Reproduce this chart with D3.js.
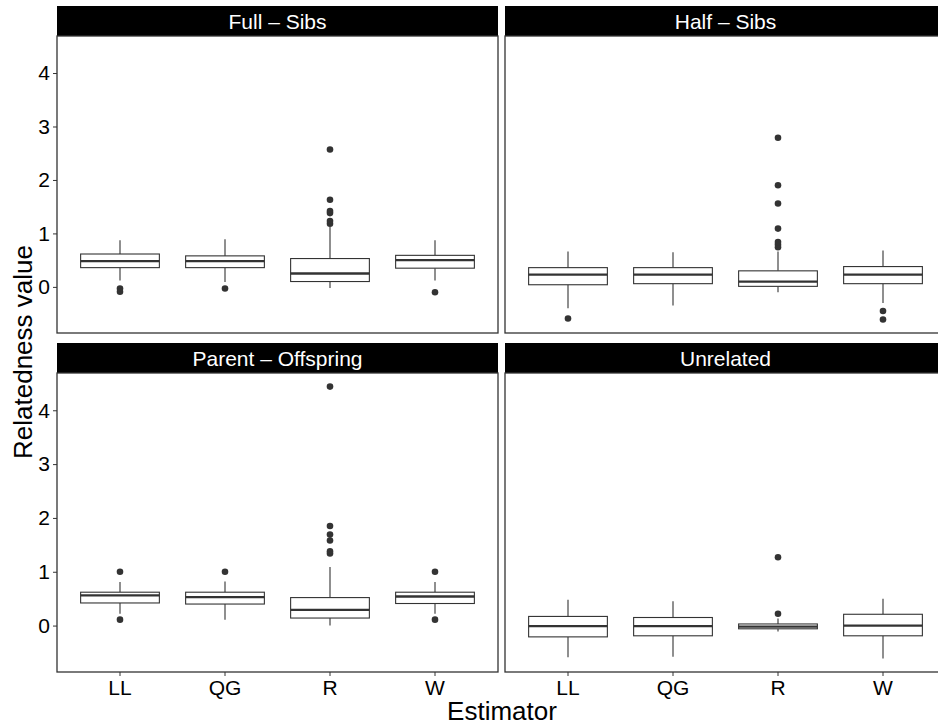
<!DOCTYPE html>
<html>
<head>
<meta charset="utf-8">
<script src="https://cdn.jsdelivr.net/npm/d3@7"></script>
<style>
  body { margin: 0; background: #fff; }
  text { font-family: "Liberation Sans", Arial, Helvetica, sans-serif; }
</style>
</head>
<body>
<div id="chart"></div>
<script>
// estimators on the x axis, one facet per relationship
const estimators = ["LL", "QG", "R", "W"];
const panels = ["Full \u2013 Sibs", "Half \u2013 Sibs", "Parent \u2013 Offspring", "Unrelated"];
const yTicks = [0, 1, 2, 3, 4];

// [lower whisker, q1, median, q3, upper whisker] for LL, QG, R, W
const fullSibs = [[0.12, 0.36, 0.48, 0.615, 0.87], [0.09, 0.36, 0.48, 0.58, 0.89], [-0.02, 0.10, 0.25, 0.53, 1.12], [0.12, 0.35, 0.50, 0.59, 0.87]];
const halfSibs = [[-0.40, 0.04, 0.23, 0.36, 0.66], [-0.35, 0.06, 0.23, 0.36, 0.65], [-0.10, 0.01, 0.10, 0.30, 0.66], [-0.30, 0.06, 0.23, 0.38, 0.68]];
const parentOffspring = [[0.22, 0.42, 0.56, 0.62, 0.81], [0.11, 0.40, 0.53, 0.62, 0.82], [0.0, 0.14, 0.29, 0.52, 1.09], [0.22, 0.41, 0.54, 0.62, 0.81]];
const unrelated = [[-0.59, -0.21, -0.01, 0.17, 0.48], [-0.58, -0.19, -0.01, 0.15, 0.45], [-0.11, -0.06, -0.02, 0.03, 0.13], [-0.61, -0.19, 0.0, 0.21, 0.50]];

// outliers for LL, QG, R, W
const fullSibsOut = [[-0.03, -0.09], [-0.03], [1.18, 1.23, 1.38, 1.42, 1.63, 2.57], [-0.10]];
const halfSibsOut = [[-0.59], [], [0.74, 0.79, 0.84, 1.09, 1.56, 1.90, 2.79], [-0.45, -0.61]];
const parentOffspringOut = [[0.11, 1.0], [1.0], [1.34, 1.38, 1.58, 1.69, 1.85, 4.44], [0.11, 1.0]];
const unrelatedOut = [[], [], [0.22, 1.27], []];

const stats = [fullSibs, halfSibs, parentOffspring, unrelated];
const outliers = [fullSibsOut, halfSibsOut, parentOffspringOut, unrelatedOut];

const width = 938, height = 727;
const colX = [[57, 498], [505, 946]];
const rowY = [[6, 36, 333], [343, 373, 672]]; // strip top, panel top, panel bottom

const svg = d3.select("#chart").append("svg")
    .attr("width", width)
    .attr("height", height);

// shared y domain, ggplot style 5% expansion
const allVals = stats.flat(2).concat(outliers.flat(2));
const lo = d3.min(allVals), hi = d3.max(allVals);
const pad = (hi - lo) * 0.05;

panels.forEach((name, i) => {
    const col = i % 2, row = Math.floor(i / 2);
    const [x0, x1] = colX[col];
    const [sTop, pTop, pBot] = rowY[row];

    const x = d3.scaleBand().domain(estimators).range([x0, x1])
        .paddingInner(0).paddingOuter(0.1);
    const y = d3.scaleLinear().domain([lo - pad, hi + pad]).range([pBot, pTop]);

    const g = svg.append("g");

    // strip
    g.append("rect")
        .attr("x", x0).attr("y", sTop)
        .attr("width", x1 - x0).attr("height", pTop - sTop)
        .attr("fill", "#000");
    g.append("text")
        .attr("x", (x0 + x1) / 2).attr("y", (sTop + pTop) / 2 + 8)
        .attr("text-anchor", "middle")
        .attr("fill", "#fff")
        .style("font-size", "21px")
        .text(name);

    const bw = x.bandwidth() * 0.75;

    const box = g.selectAll(".box")
        .data(estimators)
        .enter().append("g")
        .attr("class", "box")
        .attr("transform", d => `translate(${x(d) + x.bandwidth() / 2},0)`);

    box.append("line")
        .attr("y1", (d, j) => y(stats[i][j][3])).attr("y2", (d, j) => y(stats[i][j][4]))
        .attr("stroke", "#333").attr("stroke-width", 1.1);
    box.append("line")
        .attr("y1", (d, j) => y(stats[i][j][1])).attr("y2", (d, j) => y(stats[i][j][0]))
        .attr("stroke", "#333").attr("stroke-width", 1.1);
    box.append("rect")
        .attr("x", -bw / 2).attr("width", bw)
        .attr("y", (d, j) => y(stats[i][j][3]))
        .attr("height", (d, j) => y(stats[i][j][1]) - y(stats[i][j][3]))
        .attr("fill", "#fff").attr("stroke", "#333").attr("stroke-width", 1.1);
    box.append("line")
        .attr("x1", -bw / 2).attr("x2", bw / 2)
        .attr("y1", (d, j) => y(stats[i][j][2])).attr("y2", (d, j) => y(stats[i][j][2]))
        .attr("stroke", "#333").attr("stroke-width", 2.3);

    box.selectAll("circle")
        .data((d, j) => outliers[i][j])
        .enter().append("circle")
        .attr("cy", v => y(v))
        .attr("r", 3.3)
        .attr("fill", "#333");

    // panel border
    g.append("rect")
        .attr("x", x0).attr("y", pTop)
        .attr("width", x1 - x0).attr("height", pBot - pTop)
        .attr("fill", "none").attr("stroke", "#333").attr("stroke-width", 1.3);

    if (col === 0) {
        const ya = g.append("g")
            .attr("transform", `translate(${x0},0)`)
            .call(d3.axisLeft(y).tickValues(yTicks).tickSize(4).tickPadding(3).tickFormat(d3.format("d")));
        ya.select(".domain").remove();
        ya.selectAll("line").attr("stroke", "#333");
        ya.selectAll("text").attr("fill", "#000").style("font-size", "21px")
            .style("font-family", '"Liberation Sans", Arial, sans-serif');
    }
    if (row === 1) {
        const xa = g.append("g")
            .attr("transform", `translate(0,${pBot})`)
            .call(d3.axisBottom(x).tickSize(4).tickPadding(4));
        xa.select(".domain").remove();
        xa.selectAll("line").attr("stroke", "#333");
        xa.selectAll("text").attr("fill", "#000").style("font-size", "21px")
            .style("font-family", '"Liberation Sans", Arial, sans-serif');
    }
});

svg.append("text")
    .attr("transform", "translate(32,352) rotate(-90)")
    .attr("text-anchor", "middle")
    .style("font-size", "26px")
    .text("Relatedness value");

svg.append("text")
    .attr("x", 502).attr("y", 720)
    .attr("text-anchor", "middle")
    .style("font-size", "26px")
    .text("Estimator");
</script>
</body>
</html>
